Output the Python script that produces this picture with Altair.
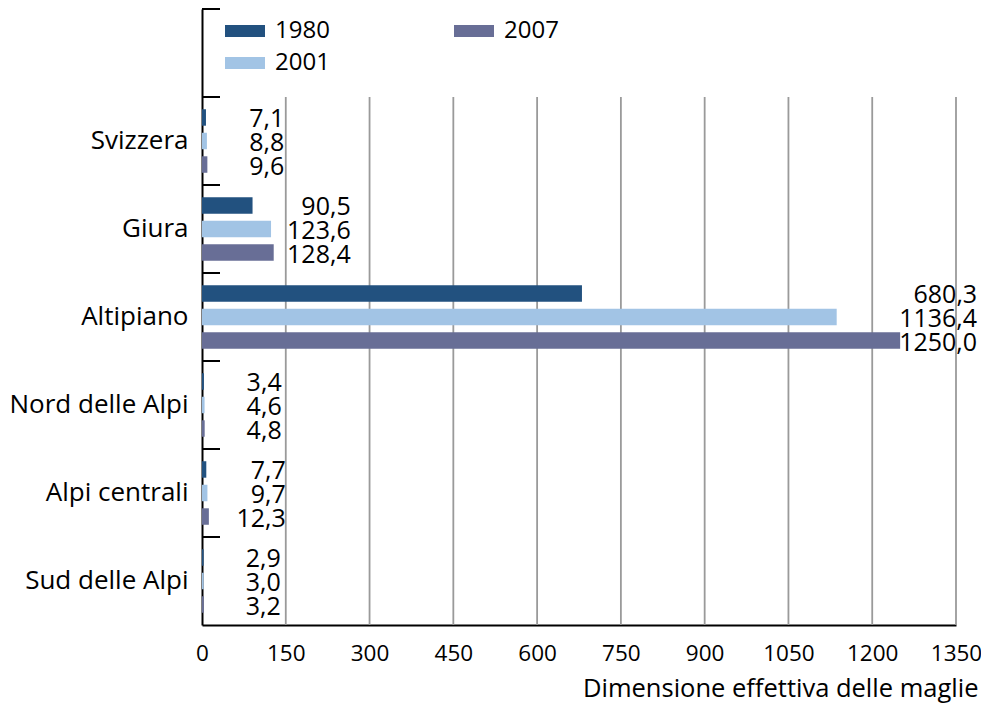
import altair as alt
import pandas as pd

# ---- data ----
categories = ["Svizzera", "Giura", "Altipiano", "Nord delle Alpi", "Alpi centrali", "Sud delle Alpi"]
years = ["1980", "2001", "2007"]
values_1980 = [7.1, 90.5, 680.3, 3.4, 7.7, 2.9]
values_2001 = [8.8, 123.6, 1136.4, 4.6, 9.7, 3.0]
values_2007 = [9.6, 128.4, 1250.0, 4.8, 12.3, 3.2]
x_ticks = [0, 150, 300, 450, 600, 750, 900, 1050, 1200, 1350]
year_colors = ["#22517f", "#a2c4e5", "#686e96"]
x_title = "Dimensione effettiva delle maglie"

rows = []
for yr, vals in zip(years, [values_1980, values_2001, values_2007]):
    for c, v in zip(categories, vals):
        rows.append({"region": c, "year": yr, "value": v})
df = pd.DataFrame(rows)

blank = " "
y_domain = [blank] + categories
W, H = 754, 616
FONT = "Open Sans"

y_scale = alt.Scale(domain=y_domain, paddingInner=0, paddingOuter=0)
x_scale = alt.Scale(domain=[0, 1350], nice=False, zero=True)
yoff_scale = alt.Scale(domain=years, paddingInner=0.3, paddingOuter=0.52)

x_axis = alt.Axis(
    values=x_ticks, format="d", grid=False, ticks=False, domainColor="black", domainWidth=2,
    labelFont=FONT, labelFontSize=22.5, labelColor="black", labelPadding=17,
    labelFlush=False, labelOverlap=False,
    title=x_title, titleFont=FONT, titleFontSize=25.5, titleFontWeight="normal",
    titleColor="black", titleX=776, titleY=71, titleAlign="right",
    titleAnchor="end", titleBaseline="alphabetic",
)
y_axis = alt.Axis(
    title=None, ticks=False, domainColor="black", domainWidth=2,
    labelFont=FONT, labelFontSize=26, labelColor="black", labelPadding=14,
)

grid_df = pd.DataFrame({"v": x_ticks[1:], "region": ["Svizzera"] * (len(x_ticks) - 1)})
grid = alt.Chart(grid_df).mark_rule(color="#9a9a9a", strokeWidth=1.8).encode(
    x=alt.X("v:Q", scale=x_scale, axis=x_axis),
    y=alt.Y("region:N", scale=y_scale, bandPosition=0, axis=y_axis),
    y2=alt.value(H),
)

bars = alt.Chart(df).mark_bar().encode(
    x=alt.X("value:Q", scale=x_scale, axis=x_axis),
    y=alt.Y("region:N", scale=y_scale, axis=y_axis),
    yOffset=alt.YOffset("year:N", scale=yoff_scale),
    color=alt.Color(
        "year:N",
        scale=alt.Scale(domain=years, range=year_colors),
        legend=alt.Legend(
            title=None, orient="none", legendX=23, legendY=2, columns=2,
            columnPadding=124, rowPadding=-2,
            symbolType="M-1,-0.3L1,-0.3L1,0.3L-1,0.3Z", symbolSize=1600,
            symbolStrokeWidth=0, symbolOpacity=1,
            labelFont=FONT, labelFontSize=24, labelColor="black", labelOffset=10,
        ),
    ),
)

labels = alt.Chart(df).transform_joinaggregate(
    gmax="max(value)", groupby=["region"]
).transform_calculate(
    label="replace(format(datum.value, '.1f'), '.', ',')"
).mark_text(
    align="right", baseline="middle", dx=77, dy=2, font=FONT, fontSize=25, color="black"
).encode(
    x=alt.X("gmax:Q", scale=x_scale, axis=x_axis),
    y=alt.Y("region:N", scale=y_scale, axis=y_axis),
    yOffset=alt.YOffset("year:N", scale=yoff_scale),
    text="label:N",
)

tick_df = pd.DataFrame({"region": y_domain})
yticks = alt.Chart(tick_df).mark_rule(color="black", strokeWidth=2).encode(
    y=alt.Y("region:N", scale=y_scale, bandPosition=0, axis=y_axis),
    x=alt.value(0),
    x2=alt.value(18),
)

chart = alt.layer(grid, bars, labels, yticks).properties(
    width=W,
    height=H,
    autosize=alt.AutoSizeParams(type="none"),
    padding={"left": 194, "top": 1, "right": 25, "bottom": 78},
).configure_view(stroke=None)

chart.save("out.html", embed_options={"renderer": "svg", "actions": False})
